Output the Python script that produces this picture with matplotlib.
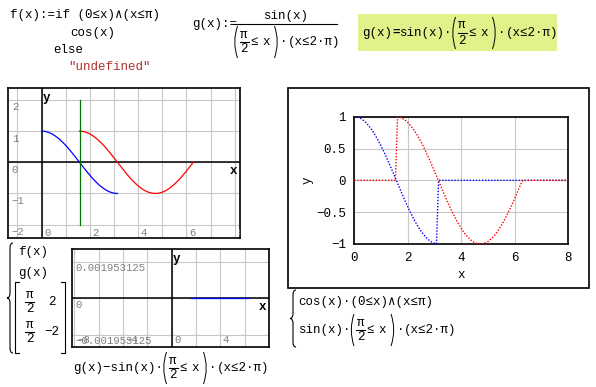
import numpy as np
import matplotlib
matplotlib.use('Agg')
import matplotlib.pyplot as plt
from matplotlib.patches import Rectangle, PathPatch
from matplotlib.path import Path
from matplotlib.transforms import offset_copy, blended_transform_factory

W, H = 596, 387

plt.rcParams['font.family'] = ['Liberation Mono', 'DejaVu Sans Mono']

PI = np.pi

# f(x) = cos(x) on [0, pi], g(x) = sin(x) on [pi/2, 2pi]
x_f = np.linspace(0, PI, 120)
f_vals = np.cos(x_f)
x_g = np.linspace(PI / 2, 2 * PI, 160)
g_vals = np.sin(x_g)
marker_x = [PI / 2, PI / 2]
marker_y = [2, -2]

# products with the boolean conditions, sampled over 0..8
x_prod = np.linspace(0, 8, 100)
cos_prod = np.cos(x_prod) * ((0 <= x_prod) & (x_prod <= PI))
sin_prod = np.sin(x_prod) * ((PI / 2 <= x_prod) & (x_prod <= 2 * PI))

# g(x) - sin(x)*(pi/2<=x)*(x<=2pi), only defined where g is
diff_vals = g_vals - np.sin(x_g)

p1_xticks = [0, 2, 4, 6, 8]
p1_yticks = [2, 1, 0, -1, -2]
p3_xticks = [-8, -4, 0, 4]
p3_yticks = [0.001953125, 0, -0.001953125]
p3_ylabels = ['0.001953125', '0', '\u22120.001953125']
p2_xticks = [0, 2, 4, 6, 8]
p2_yticks = [-1, -0.5, 0, 0.5, 1]

GRID = '#c8c8c8'
TICK_GRAY = '#808080'
MONO = ['Liberation Mono', 'DejaVu Sans Mono']
LE, PIS, DOT, MINUS, AND = '\u2264', '\u03c0', '\u00b7', '\u2212', '\u2227'


def rect(l, t, r, b):
    return [l / W, 1 - b / H, (r - l) / W, (b - t) / H]


def fmt(v):
    return ('%g' % v).replace('-', MINUS)


def quick_axes(ax, xgrid, ygrid, ylabels, xticks, ydrop, xlift):
    # Mathcad style quick plot: grid, axes through the origin, labels inside the frame
    for v in xgrid:
        ax.axvline(v, color=GRID, lw=0.8, zorder=0)
    for v in ygrid:
        ax.axhline(v, color=GRID, lw=0.8, zorder=0)
    ax.axhline(0, color='black', lw=1.1, zorder=1)
    ax.axvline(0, color='black', lw=1.1, zorder=1)
    ax.set_xticks([])
    ax.set_yticks([])
    for s in ax.spines.values():
        s.set_linewidth(1.2)
    ty = offset_copy(blended_transform_factory(ax.transAxes, ax.transData),
                     x=3.5, y=-ydrop, units='dots')
    tx = offset_copy(blended_transform_factory(ax.transData, ax.transAxes),
                     x=2.5, y=xlift, units='dots')
    for v, lab in ylabels:
        ax.text(0, v, lab, transform=ty, ha='left', va='baseline', fontsize=7.7,
                color=TICK_GRAY, clip_on=True)
    for v in xticks:
        ax.text(v, 0, fmt(v), transform=tx, ha='left', va='baseline', fontsize=7.7,
                color=TICK_GRAY, clip_on=True)


fig = plt.figure(figsize=(W / 100, H / 100), dpi=100)
fig.patch.set_facecolor('white')

# ---- quick plot of f, g and the marker line
ax1 = fig.add_axes(rect(8.3, 87.5, 240, 237.7))
ax1.set_xlim(-1.38, 8.22)
ax1.set_ylim(-2.42, 2.40)
quick_axes(ax1, range(-1, 9), range(-2, 3), [(v, fmt(v)) for v in p1_yticks],
           p1_xticks, 10.5, 1.6)
ax1.plot(x_f, f_vals, color='#0000ff', lw=0.9, zorder=3)
ax1.plot(x_g, g_vals, color='#ff0000', lw=0.9, zorder=3)
ax1.plot(marker_x, marker_y, color='#007000', lw=0.9, zorder=3)

# ---- difference plot
ax3 = fig.add_axes(rect(71.7, 249.3, 269.3, 346.7))
ax3.set_xlim(-8.23, 8.03)
ax3.set_ylim(-0.00259, 0.002622)
quick_axes(ax3, range(-8, 9, 2), p3_yticks, list(zip(p3_yticks, p3_ylabels)),
           p3_xticks, 9.5, 3.3)
ax3.plot(x_g, diff_vals, color='#0000ff', lw=0.9, zorder=3)

# ---- product plot with dotted traces
ax2 = fig.add_axes(rect(354.3, 116.7, 568.3, 244))
ax2.set_xlim(0, 8)
ax2.set_ylim(-1, 1)
ax2.plot(x_prod, cos_prod, color='#0000ff', lw=1.0, ls=(0, (1, 1.2)), zorder=3)
ax2.plot(x_prod, sin_prod, color='#ff0000', lw=1.0, ls=(0, (1, 1.2)), zorder=4)
ax2.set_xticks(p2_xticks)
ax2.set_yticks(p2_yticks)
ax2.set_xticklabels([fmt(v) for v in p2_xticks])
ax2.set_yticklabels([fmt(v) for v in p2_yticks])
ax2.grid(True, color=GRID, lw=0.8)
ax2.set_axisbelow(True)
ax2.tick_params(length=0, labelsize=9, pad=6)
for s in ax2.spines.values():
    s.set_linewidth(1.2)

# ---- overlay for the worksheet text and decorations
ov = fig.add_axes([0, 0, 1, 1], zorder=10)
ov.set_xlim(0, W)
ov.set_ylim(H, 0)
ov.axis('off')
ov.patch.set_alpha(0)

CH = 7.5  # advance of one monospace char at 9 pt


def txt(x, y, s, ha='left', va='center', size=9, **kw):
    ov.text(x, y, s, ha=ha, va=va, fontsize=size, family=MONO, **kw)


def curve(p0, c, p1, lw=0.7):
    path = Path([p0, c, p1], [Path.MOVETO, Path.CURVE3, Path.CURVE3])
    ov.add_patch(PathPatch(path, fill=False, lw=lw, color='black'))


def brace(xl, xr, y0, y1, r=5):
    xm = (xl + xr) / 2
    ym = (y0 + y1) / 2
    verts = [(xr, y0), (xm, y0), (xm, y0 + r), (xm, ym - r), (xm, ym), (xl, ym),
             (xm, ym), (xm, ym + r), (xm, y1 - r), (xm, y1), (xr, y1)]
    codes = [Path.MOVETO, Path.CURVE3, Path.CURVE3, Path.LINETO, Path.CURVE3, Path.CURVE3,
             Path.CURVE3, Path.CURVE3, Path.LINETO, Path.CURVE3, Path.CURVE3]
    ov.add_patch(PathPatch(Path(verts, codes), fill=False, lw=0.8, color='black'))


def frac(xc, yc):
    # stacked pi over 2
    txt(xc, yc - 1.5, PIS, ha='center', va='bottom')
    ov.plot([xc - 4.5, xc + 4.5], [yc, yc], color='black', lw=0.8)
    txt(xc, yc + 1.5, '2', ha='center', va='top')


def paren_frac(x, yc):
    # (pi/2 <= x) with tall parentheses
    curve((x + 3.5, yc - 16), (x - 2, yc), (x + 3.5, yc + 16))
    frac(x + 10, yc)
    txt(x + 16, yc, LE)
    txt(x + 28, yc, 'x')
    curve((x + 40.5, yc - 16), (x + 46, yc), (x + 40.5, yc + 16))
    return x + 46


def run(x, y, parts):
    for p in parts:
        if p == 'FRAC':
            x = paren_frac(x, y)
        elif isinstance(p, tuple):
            txt(x, y, p[1], weight='bold')
            x += CH * len(p[1])
        else:
            txt(x, y, p)
            x += CH * len(p)
    return x


TAIL = ['FRAC', DOT, '(x' + LE + '2' + DOT + PIS + ')']

# definition of f
txt(10, 15, 'f(x):=if (0' + LE + 'x)' + AND + '(x' + LE + PIS + ')')
txt(70, 33, 'cos(x)')
txt(53, 50, 'else')
txt(68, 67, '"undefined"', color='#b03030')

# definition of g
txt(192, 24, 'g(x):=')
txt(285.5, 16, 'sin(x)', ha='center')
ov.plot([233, 337], [24, 24], color='black', lw=0.8)
run(234, 42, TAIL)

# evaluated result
ov.add_patch(Rectangle((358.3, 14), 198.4, 36.7, facecolor='#e2f28a', edgecolor='none', zorder=0))
run(362, 33, ['g(x)', ('b', '='), 'sin(x)' + DOT] + TAIL)

# traces of the first plot
brace(7, 13, 243, 353)
txt(18, 252, 'f(x)')
txt(18, 273, 'g(x)')
ov.plot([19, 15, 15, 19], [282, 282, 353, 353], color='black', lw=0.8)
ov.plot([61, 65, 65, 61], [282, 282, 353, 353], color='black', lw=0.8)
frac(29.5, 302)
frac(29.5, 332)
txt(56, 302, '2', ha='right')
txt(59, 332, MINUS + '2', ha='right')

# axis labels of the small plots
txt(47, 98, 'y', ha='center', weight='bold')
txt(233, 171, 'x', ha='center', weight='bold')
txt(177, 259, 'y', ha='center', weight='bold')
txt(262, 306.5, 'x', ha='center', weight='bold')

# x expression of the difference plot
run(73, 368, ['g(x)' + MINUS + 'sin(x)' + DOT] + TAIL)

# frame and labels of the product plot
ov.add_patch(Rectangle((287.7, 87.7), 301.3, 200.6, fill=False, edgecolor='black', lw=1.2))
txt(461, 275, 'x', ha='center')
txt(308, 180, 'y', ha='center', rotation=90)
brace(290, 296, 290, 347)
txt(298, 302, 'cos(x)' + DOT + '(0' + LE + 'x)' + AND + '(x' + LE + PIS + ')')
run(298, 330, ['sin(x)' + DOT] + TAIL)

fig.savefig('out.png', dpi=100)
